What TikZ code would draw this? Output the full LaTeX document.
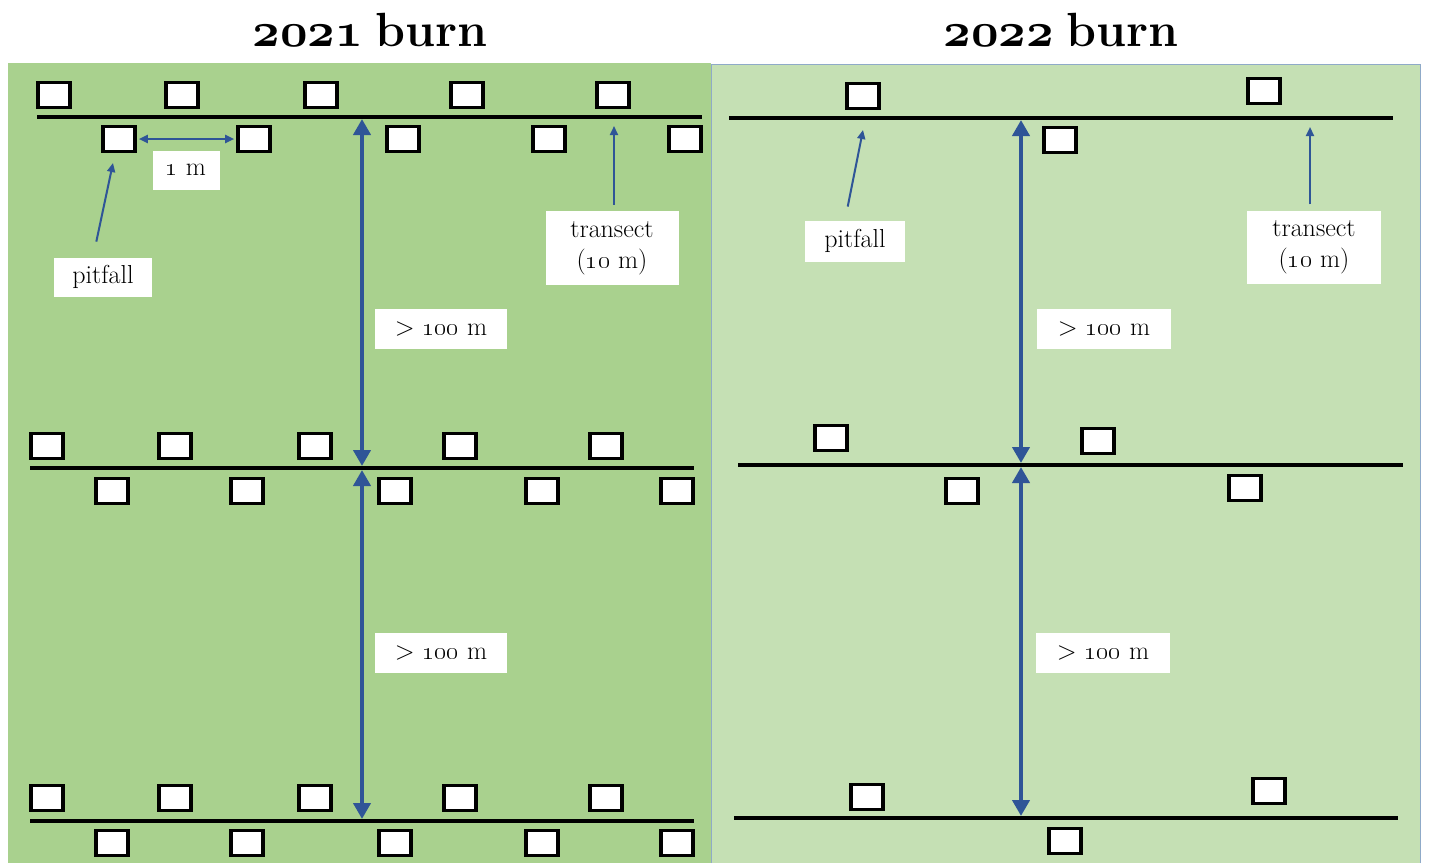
\documentclass[tikz,border=0pt]{standalone}
\usepackage{fix-cm}
\usepackage{xcolor}
\usetikzlibrary{arrows.meta}
\definecolor{mygreen}{RGB}{169,209,142}
\definecolor{mylightgreen}{RGB}{197,224,180}
\definecolor{myblue}{RGB}{47,85,151}
\definecolor{myframe}{RGB}{143,170,200}
\newcommand{\boldold}[1]{{\usefont{OML}{cmm}{b}{it}#1}}

\tikzset{
pitbox/.style={draw=black, fill=white, line width=3.6pt, minimum width=32pt, minimum height=25pt, inner sep=0pt},
tlabel/.style={fill=white, inner sep=0pt, align=center, font=\fontsize{26}{31}\selectfont},
transline/.style={black, line width=4pt},
dimarrow/.style={myblue, line width=4pt, {Triangle[length=16pt,width=17pt]}-{Triangle[length=16pt,width=17pt]}, shorten <=2pt, shorten >=2pt},
ptrarrow/.style={myblue, line width=2pt, >={Triangle[length=9pt,width=8pt]}}
}

\begin{document}
\begin{tikzpicture}[x=1pt,y=-1pt]
\useasboundingbox (0,0) rectangle (1429,863);

% panels
\fill[mygreen] (8,63) rectangle (711,863);
\fill[mylightgreen] (711,64) rectangle (1420,863);
\draw[myframe, line width=1pt] (711,863) -- (711,64) -- (1420,64) -- (1420,863);

\node[font=\bfseries\fontsize{48}{56}\selectfont] (title21) at (370,30) {\boldold{2021}\hspace{12pt}burn};
\node[font=\bfseries\fontsize{48}{56}\selectfont] (title22) at (1061,30) {\boldold{2022}\hspace{12pt}burn};

% transects
\coordinate (L1w) at (37,117); \coordinate (L1e) at (702,117); \coordinate (L1m) at (362,117);
\coordinate (L2w) at (30,468); \coordinate (L2e) at (694,468); \coordinate (L2m) at (362,468);
\coordinate (L3w) at (30,821); \coordinate (L3e) at (694,821); \coordinate (L3m) at (362,821);
\coordinate (R1w) at (729,118); \coordinate (R1e) at (1393,118); \coordinate (R1m) at (1021,118);
\coordinate (R2w) at (738,465); \coordinate (R2e) at (1403,465); \coordinate (R2m) at (1021,465);
\coordinate (R3w) at (734,818); \coordinate (R3e) at (1398,818); \coordinate (R3m) at (1021,818);
\foreach \n in {L1,L2,L3,R1,R2,R3}{
\draw[transline] (\n w) -- (\n e);
}

% pitfalls 2021
\foreach \x [count=\i] in {54,182,321,467,613}{
\node[pitbox] (l1t\i) at (\x,95) {};
}
\foreach \x [count=\i] in {119,254,403,549,685}{
\node[pitbox] (l1b\i) at (\x,139) {};
}
\foreach \y [count=\j from 2] in {446,798}{
\foreach \x [count=\i] in {47,175,315,460,606}{
\node[pitbox] (l\j t\i) at (\x,\y) {};
}
\foreach \x [count=\i] in {112,247,395,542,677}{
\node[pitbox] (l\j b\i) at (\x,\y+45) {};
}
}

% pitfalls 2022
\node[pitbox] (r1t1) at (863,96) {};
\node[pitbox] (r1t2) at (1264,91) {};
\node[pitbox] (r1b1) at (1060,140) {};
\node[pitbox] (r2t1) at (831,438) {};
\node[pitbox] (r2t2) at (1098,441) {};
\node[pitbox] (r2b1) at (962,491) {};
\node[pitbox] (r2b2) at (1245,488) {};
\node[pitbox] (r3t1) at (867,797) {};
\node[pitbox] (r3t2) at (1269,791) {};
\node[pitbox] (r3b1) at (1065,841) {};

% distances
\draw[dimarrow] (L1m) -- (L2m);
\draw[dimarrow] (L2m) -- (L3m);
\draw[dimarrow] (R1m) -- (R2m);
\draw[dimarrow] (R2m) -- (R3m);

\node[tlabel, minimum width=132pt, minimum height=40pt] (dL1) at (441,329) {\textgreater{} \oldstylenums{100} m};
\node[tlabel, minimum width=132pt, minimum height=40pt] (dL2) at (441,653) {\textgreater{} \oldstylenums{100} m};
\node[tlabel, minimum width=134pt, minimum height=40pt] (dR1) at (1104,329) {\textgreater{} \oldstylenums{100} m};
\node[tlabel, minimum width=134pt, minimum height=40pt] (dR2) at (1103,653) {\textgreater{} \oldstylenums{100} m};

% labels
\node[tlabel, minimum width=67pt, minimum height=39pt] (oneM) at (186,170) {\oldstylenums{1} m};
\draw[ptrarrow, <->, shorten <=2pt, shorten >=2pt] (l1b1.east) -- (l1b2.west);

\node[tlabel, minimum width=98pt, minimum height=39pt] (pL) at (103,277) {pitfall};
\node[tlabel, minimum width=100pt, minimum height=41pt] (pR) at (855,241) {pitfall};
\node[tlabel, minimum width=133pt, minimum height=74pt] (tL) at (612,248) {transect\\(\oldstylenums{10} m)};
\node[tlabel, minimum width=134pt, minimum height=73pt] (tR) at (1314,247) {transect\\(\oldstylenums{10} m)};

\coordinate (pLtip) at (113,163);
\coordinate (pRtip) at (863,130);
\coordinate (tLtip) at (614,126);
\coordinate (tRtip) at (1310,127);
\draw[ptrarrow, ->, shorten <=16pt] ([xshift=-10pt]pL.north) -- (pLtip);
\draw[ptrarrow, ->, shorten <=14pt] ([xshift=-10pt]pR.north) -- (pRtip);
\draw[ptrarrow, ->, shorten <=6pt] ([xshift=2pt]tL.north) -- (tLtip);
\draw[ptrarrow, ->, shorten <=6pt] ([xshift=-4pt]tR.north) -- (tRtip);

\end{tikzpicture}
\end{document}
